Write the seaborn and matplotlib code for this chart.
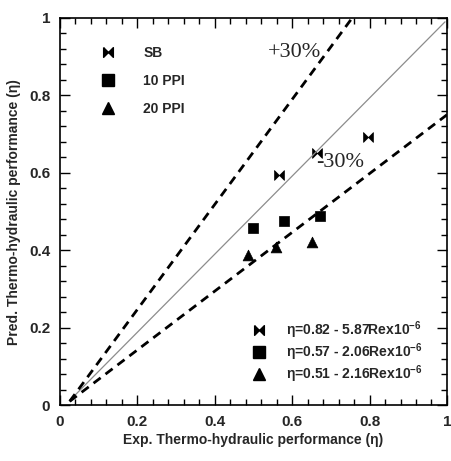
import numpy as np
import pandas as pd
import matplotlib
matplotlib.use("Agg")
import matplotlib.pyplot as plt
from matplotlib.path import Path
from matplotlib.lines import Line2D
from matplotlib.ticker import MultipleLocator
import seaborn as sns

# measured points (exp, pred)
sb_exp = [0.567, 0.665, 0.796]
sb_pred = [0.594, 0.651, 0.692]
ppi10_exp = [0.500, 0.580, 0.673]
ppi10_pred = [0.457, 0.475, 0.488]
ppi20_exp = [0.487, 0.557, 0.652]
ppi20_pred = [0.388, 0.408, 0.421]

# reference lines (endpoints)
line_ideal_x = [0.025, 0.995]
line_ideal_y = [0.012, 0.99]
line_plus_x = [0.025, 0.755]
line_plus_y = [0.010, 1.0]
line_minus_x = [0.025, 1.0]
line_minus_y = [0.010, 0.750]

tick_vals = [0, 0.2, 0.4, 0.6, 0.8, 1]
tick_labels = ["0", "0.2", "0.4", "0.6", "0.8", "1"]

legend_names = ["SB", "10 PPI", "20 PPI"]
corr_labels = [r"η=0.82 - 5.87Rex10$^{-6}$",
               r"η=0.57 - 2.06Rex10$^{-6}$",
               r"η=0.51 - 2.16Rex10$^{-6}$"]

df = pd.concat([
    pd.DataFrame({"exp": sb_exp, "pred": sb_pred, "group": "SB"}),
    pd.DataFrame({"exp": ppi10_exp, "pred": ppi10_pred, "group": "10 PPI"}),
    pd.DataFrame({"exp": ppi20_exp, "pred": ppi20_pred, "group": "20 PPI"}),
])

sns.set_style("ticks")
plt.rcParams["font.family"] = ["Liberation Sans", "DejaVu Sans"]
plt.rcParams["mathtext.fontset"] = "custom"
plt.rcParams["mathtext.rm"] = "Liberation Sans:bold"
plt.rcParams["mathtext.it"] = "Liberation Sans:bold"
plt.rcParams["mathtext.bf"] = "Liberation Sans:bold"

bowtie = Path([(-1, 1), (0, 0), (1, 1), (1, -1), (0, 0), (-1, -1), (-1, 1)])
markers = {"SB": bowtie, "10 PPI": "s", "20 PPI": "^"}
sizes = {"SB": 50, "10 PPI": 60, "20 PPI": 60}

fig = plt.figure(figsize=(4.51, 4.61), dpi=100)
ax = fig.add_axes([0.133, 0.121, 0.858, 0.840])

ax.plot(line_ideal_x, line_ideal_y, color="#8c8c8c", lw=0.9)
ax.plot(line_plus_x, line_plus_y, color="black", lw=2, dashes=(3.2, 2.2))
ax.plot(line_minus_x, line_minus_y, color="black", lw=2, dashes=(3.2, 2.2))

for g in legend_names:
    sub = df[df["group"] == g]
    sns.scatterplot(data=sub, x="exp", y="pred", marker=markers[g], s=sizes[g],
                    color="black", edgecolor="black", linewidth=0.5, ax=ax, legend=False)

ax.text(0.605, 0.912, "+30%", family="Liberation Serif", fontsize=16, ha="center", va="center")
ax.text(0.725, 0.628, "-30%", family="Liberation Serif", fontsize=16, ha="center", va="center")

ax.set_xlim(0, 1)
ax.set_ylim(0, 1)
ax.set_xticks(tick_vals)
ax.set_xticklabels(tick_labels, fontweight="bold", fontsize=11)
ax.set_yticks(tick_vals)
ax.set_yticklabels(tick_labels, fontweight="bold", fontsize=11)
ax.xaxis.set_minor_locator(MultipleLocator(0.04))
ax.yaxis.set_minor_locator(MultipleLocator(0.04))
ax.tick_params(which="both", direction="in", top=True, right=True, width=1, color="black")
ax.tick_params(which="major", length=7, pad=7)
ax.tick_params(which="minor", length=4)
for sp in ax.spines.values():
    sp.set_linewidth(1.2)
    sp.set_color("black")

ax.set_xlabel("Exp. Thermo-hydraulic performance (η)", fontweight="bold", fontsize=10, labelpad=3)
ax.set_ylabel("Pred. Thermo-hydraulic performance (η)", fontweight="bold", fontsize=10, labelpad=6)

def handles():
    return [Line2D([], [], ls="none", marker=markers[g], color="black",
                   markersize=7 if g == "SB" else 8) for g in legend_names]

leg1 = ax.legend(handles(), legend_names, loc="upper left", bbox_to_anchor=(0.075, 0.96),
                 frameon=False, prop={"weight": "bold", "size": 10}, labelspacing=1.0,
                 handletextpad=2.0, handlelength=1.0)
ax.add_artist(leg1)
ax.legend(handles(), corr_labels, loc="lower left", bbox_to_anchor=(0.465, 0.02),
          frameon=False, prop={"weight": "bold", "size": 10}, labelspacing=0.02,
          handletextpad=1.4, handlelength=1.0)

fig.savefig("out.png", dpi=100)
